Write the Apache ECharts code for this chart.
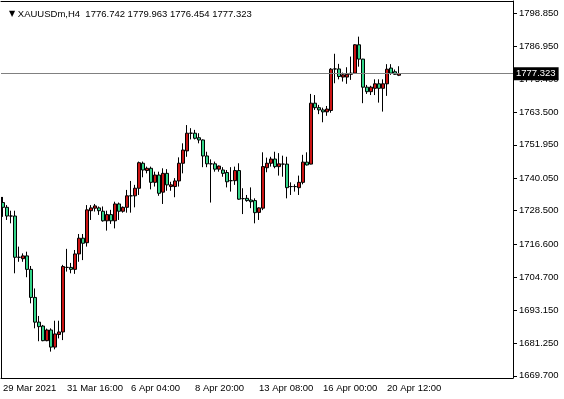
<!DOCTYPE html>
<html>
<head>
    <meta charset="utf-8"/>
    <title>XAUUSDm,H4</title>
    <script src="https://cdn.jsdelivr.net/npm/echarts@6/dist/echarts.min.js"></script>
    <style>
        html, body {margin: 0; padding: 0; background: #fff;}
        #chart {width: 564px; height: 399px;}
    </style>
</head>
<body>
<div id="chart"></div>
<script>
    // H4 bars (oldest first)
    var open = [
        1731.4, 1729.7, 1726.6, 1726.6, 1711.9, 1711.4, 1712.4, 1707.6, 1697.6, 1688.8,
        1687.4, 1682.2, 1686.0, 1679.9, 1684.4, 1685.3, 1708.3, 1708.3, 1707.6, 1713.1,
        1718.7, 1717.1, 1728.5, 1729.4, 1729.5, 1728.3, 1724.9, 1727.1, 1724.9, 1730.9,
        1728.3, 1729.7, 1733.8, 1733.8, 1736.5, 1745.4, 1742.8, 1743.6, 1738.6, 1741.2,
        1735.1, 1741.8, 1737.1, 1737.1, 1739.1, 1745.4, 1749.8, 1756.1, 1756.1, 1754.5,
        1753.7, 1748.0, 1745.2, 1745.2, 1743.3, 1743.0, 1742.1, 1739.2, 1739.2, 1742.8,
        1732.8, 1732.9, 1732.3, 1732.1, 1727.9, 1729.4, 1743.8, 1745.4, 1746.9, 1744.2,
        1745.1, 1745.1, 1737.1, 1737.1, 1736.7, 1738.6, 1745.8, 1745.1, 1766.8, 1765.2,
        1764.4, 1763.7, 1764.2, 1779.0, 1779.0, 1776.1, 1776.1, 1777.1, 1777.5, 1787.6,
        1782.5, 1772.5, 1770.9, 1772.1, 1773.7, 1772.1, 1773.7, 1779.3, 1778.0, 1776.742
    ];
    var close = [
        1729.7, 1726.6, 1726.6, 1711.9, 1711.9, 1712.4, 1707.6, 1697.6, 1688.8, 1687.2,
        1682.2, 1686.0, 1679.9, 1684.6, 1685.3, 1708.6, 1708.3, 1707.6, 1713.1, 1718.7,
        1716.9, 1728.8, 1729.5, 1730.2, 1728.5, 1724.9, 1727.1, 1724.9, 1730.9, 1728.3,
        1729.7, 1733.8, 1733.8, 1736.5, 1745.6, 1743.0, 1743.6, 1738.6, 1741.2, 1734.7,
        1741.8, 1737.7, 1737.7, 1739.1, 1745.4, 1750.1, 1756.1, 1756.1, 1754.3, 1753.7,
        1748.0, 1745.2, 1745.2, 1743.3, 1744.4, 1741.8, 1738.8, 1739.2, 1742.8, 1732.6,
        1732.8, 1732.1, 1731.7, 1727.8, 1729.5, 1744.2, 1745.4, 1746.9, 1744.2, 1745.2,
        1745.1, 1736.7, 1737.1, 1737.1, 1738.6, 1745.8, 1744.8, 1766.8, 1765.2, 1764.4,
        1763.7, 1764.7, 1778.9, 1779.0, 1776.3, 1776.9, 1777.1, 1777.5, 1787.6, 1782.5,
        1772.5, 1770.9, 1772.5, 1773.7, 1772.1, 1773.7, 1778.9, 1777.5, 1777.1, 1777.323
    ];
    var high = [
        1733.4, 1730.5, 1728.5, 1728.5, 1715.7, 1713.3, 1713.9, 1708.8, 1700.8, 1691.0,
        1687.8, 1686.5, 1686.6, 1689.3, 1689.3, 1709.2, 1714.9, 1709.9, 1714.5, 1720.2,
        1720.2, 1730.5, 1730.5, 1730.9, 1730.0, 1730.0, 1728.5, 1728.8, 1731.7, 1731.4,
        1730.0, 1735.9, 1739.1, 1737.7, 1746.0, 1746.0, 1744.2, 1744.2, 1742.4, 1742.4,
        1743.6, 1743.3, 1738.8, 1740.1, 1747.5, 1752.5, 1759.0, 1757.9, 1757.3, 1756.1,
        1753.9, 1749.5, 1746.8, 1746.0, 1744.6, 1744.0, 1743.0, 1744.0, 1744.2, 1745.4,
        1736.5, 1734.1, 1736.8, 1732.9, 1729.7, 1749.3, 1747.4, 1747.7, 1749.5, 1749.0,
        1748.1, 1747.7, 1738.6, 1737.9, 1741.0, 1748.4, 1749.3, 1770.1, 1769.7, 1766.2,
        1765.2, 1765.8, 1779.3, 1784.4, 1780.8, 1777.7, 1779.6, 1783.4, 1787.8, 1790.5,
        1782.6, 1773.3, 1773.0, 1775.3, 1775.3, 1775.3, 1780.7, 1780.7, 1778.8, 1779.963
    ];
    var low = [
        1726.3, 1725.2, 1724.0, 1706.2, 1710.3, 1710.3, 1704.8, 1695.5, 1686.6, 1682.0,
        1682.0, 1682.0, 1678.3, 1679.1, 1683.0, 1682.4, 1706.8, 1706.2, 1706.0, 1710.3,
        1710.9, 1715.7, 1725.2, 1728.2, 1727.0, 1724.6, 1721.4, 1723.8, 1722.2, 1725.2,
        1727.8, 1727.8, 1727.8, 1729.7, 1734.1, 1740.4, 1741.8, 1736.1, 1737.1, 1733.8,
        1730.9, 1735.6, 1735.6, 1733.3, 1737.1, 1741.8, 1747.7, 1753.9, 1753.9, 1752.5,
        1744.0, 1744.0, 1731.4, 1742.4, 1742.4, 1740.6, 1736.8, 1735.3, 1737.7, 1732.4,
        1727.3, 1731.7, 1729.4, 1724.0, 1725.2, 1728.7, 1742.2, 1744.2, 1743.6, 1741.0,
        1740.6, 1732.9, 1734.1, 1735.3, 1734.1, 1737.9, 1744.6, 1745.0, 1764.4, 1762.9,
        1760.0, 1762.3, 1763.4, 1773.9, 1775.3, 1774.5, 1773.7, 1775.1, 1777.4, 1779.8,
        1766.8, 1770.1, 1769.7, 1769.7, 1767.0, 1763.8, 1769.4, 1776.9, 1776.9, 1776.454
    ];

    // time scale: one label every 16 bars, empty slots on the right (chart shift)
    var timeLabels = ['29 Mar 2021', '31 Mar 16:00', '6 Apr 04:00', '8 Apr 20:00', '13 Apr 08:00', '16 Apr 00:00', '20 Apr 12:00'];
    var barsPerLabel = 16;
    var slotCount = 128;

    // price scale labels
    var priceTicks = [1669.70, 1681.25, 1693.15, 1704.70, 1716.60, 1728.50, 1740.05, 1751.95, 1763.50, 1775.40, 1786.95, 1798.85];
    var priceMin = 1668.9, priceMax = 1803.2;

    var symbol = 'XAUUSDm,H4';
    var font = 'Liberation Sans';

    var categories = [];
    for (var i = 0; i < slotCount; i++) {
        categories.push(i % barsPerLabel === 0 && timeLabels[i / barsPerLabel] ? timeLabels[i / barsPerLabel] : '');
    }
    var candles = [];
    for (var j = 0; j < open.length; j++) {
        candles.push([open[j], close[j], low[j], high[j]]);
    }
    var last = open.length - 1;

    function showTick(idx) {
        return idx % barsPerLabel === 0 && idx / barsPerLabel < timeLabels.length;
    }

    var myChart = echarts.init(document.getElementById('chart'));
    var option = {
        animation: false,
        backgroundColor: '#fff',
        title: {
            text: '{tri|▼} ' + symbol + '  ' + [open[last], high[last], low[last], close[last]].map(function (v) {
                return v.toFixed(3);
            }).join(' '),
            left: 4,
            top: 4,
            textStyle: {
                fontFamily: font,
                fontSize: 9.5,
                fontWeight: 'normal',
                color: '#000',
                rich: {
                    tri: {fontFamily: 'DejaVu Sans', fontSize: 8, color: '#000'}
                }
            }
        },
        grid: {left: 1, right: 51, top: 1, bottom: 21},
        xAxis: [{
            type: 'category',
            data: categories,
            boundaryGap: true,
            axisLine: {lineStyle: {color: '#000', width: 1}},
            axisTick: {interval: showTick, alignWithLabel: true, length: 4, lineStyle: {color: '#000'}},
            axisLabel: {
                interval: showTick,
                align: 'left',
                margin: 5,
                fontFamily: font,
                fontSize: 9.5,
                color: '#000'
            },
            splitLine: {show: false}
        }, {
            type: 'category',
            position: 'top',
            data: categories,
            axisLine: {lineStyle: {color: '#000', width: 1}},
            axisTick: {show: false},
            axisLabel: {show: false}
        }],
        yAxis: {
            type: 'value',
            position: 'right',
            min: priceMin,
            max: priceMax,
            axisLine: {show: true, lineStyle: {color: '#000', width: 1}},
            axisTick: {show: true, length: 4, customValues: priceTicks, lineStyle: {color: '#000'}},
            axisLabel: {
                customValues: priceTicks,
                margin: 6,
                fontFamily: font,
                fontSize: 9.5,
                color: '#000',
                formatter: function (v) {
                    return v.toFixed(3);
                }
            },
            splitLine: {show: false}
        },
        series: [{
            type: 'candlestick',
            data: candles,
            barWidth: 3,
            itemStyle: {
                color: '#cc1414',
                color0: '#33d68a',
                borderColor: '#000',
                borderColor0: '#000',
                borderColorDoji: '#000',
                borderWidth: 1
            },
            markLine: {
                silent: true,
                symbol: 'none',
                animation: false,
                precision: 3,
                lineStyle: {color: '#808080', type: 'solid', width: 1},
                label: {
                    position: 'end',
                    distance: 1,
                    fontFamily: font,
                    fontSize: 9.5,
                    color: '#fff',
                    backgroundColor: '#000',
                    padding: [2, 3, 1, 2],
                    formatter: close[last].toFixed(3)
                },
                data: [{yAxis: close[last]}]
            }
        }]
    };
    myChart.setOption(option);

    // the short frame piece at the left edge, from the first bar down to the time scale
    var edgeX = Math.round(myChart.convertToPixel({xAxisIndex: 0}, 0)) - 1.5;
    var edgeTop = myChart.convertToPixel({yAxisIndex: 0}, high[0]);
    var edgeBottom = myChart.convertToPixel({yAxisIndex: 0}, priceMin);
    myChart.setOption({
        graphic: [{
            type: 'line',
            shape: {x1: edgeX, y1: edgeTop, x2: edgeX, y2: edgeBottom},
            style: {stroke: '#000', lineWidth: 1},
            silent: true
        }]
    });
</script>
</body>
</html>
